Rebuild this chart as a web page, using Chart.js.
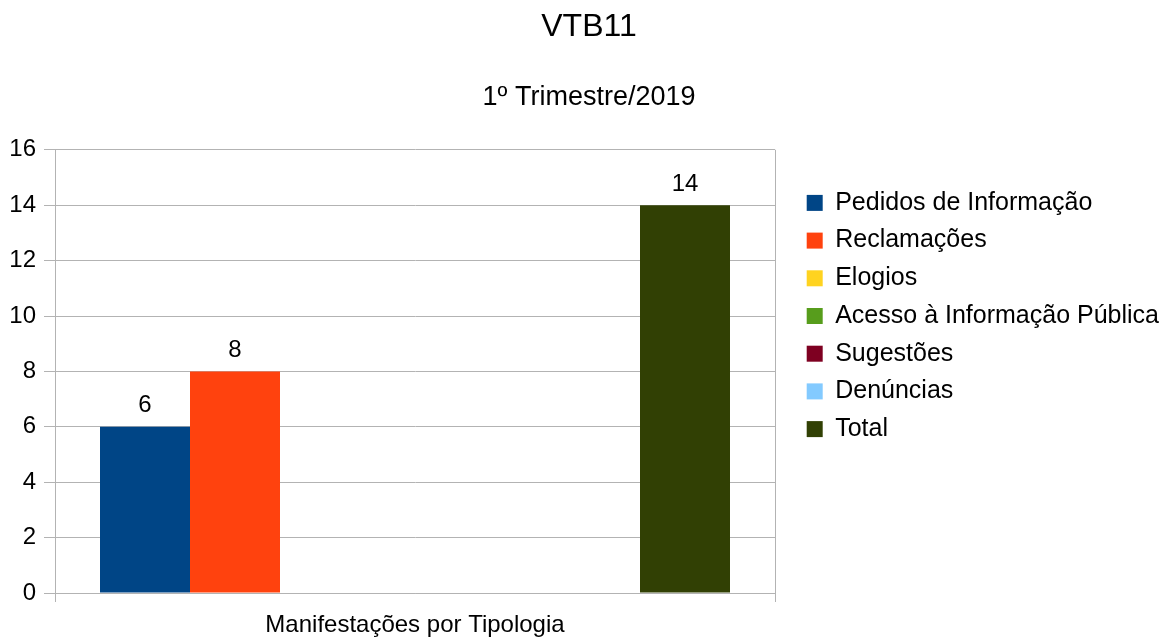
<!DOCTYPE html>
<html>
<head>
<meta charset="utf-8">
<title>VTB11</title>
<script src="https://cdn.jsdelivr.net/npm/chart.js@4.4.1/dist/chart.umd.min.js"></script>
<style>
  html, body { margin: 0; padding: 0; background: #fff; }
  #wrap { width: 1176px; height: 640px; }
</style>
</head>
<body>
<div id="wrap"><canvas id="grafico" width="1176" height="640"></canvas></div>
<script>
const categorias = ['Manifestações por Tipologia'];
const series = ['Pedidos de Informação', 'Reclamações', 'Elogios', 'Acesso à Informação Pública', 'Sugestões', 'Denúncias', 'Total'];
const valores = [6, 8, 0, 0, 0, 0, 14];
const cores = ['#004586', '#ff420e', '#ffd320', '#579d1c', '#7e0021', '#83caff', '#314004'];

const fonte = 'Liberation Sans, Arial, sans-serif';
const cinza = '#b3b3b3';
const larguraLegenda = 401;

// valor escrito em cima de cada barra (zeros ficam sem rótulo)
const rotulos = {
  id: 'rotulos',
  afterDatasetsDraw(chart) {
    const ctx = chart.ctx;
    ctx.save();
    ctx.font = '24px ' + fonte;
    ctx.fillStyle = '#000';
    ctx.textAlign = 'center';
    ctx.textBaseline = 'middle';
    chart.data.datasets.forEach((ds, i) => {
      chart.getDatasetMeta(i).data.forEach((bar, j) => {
        const v = ds.data[j];
        if (v > 0) ctx.fillText(String(v), bar.x, bar.y - 21);
      });
    });
    ctx.restore();
  }
};

// legenda mais larga que o limite padrão, um pouco afastada do gráfico e levantada
const ajusteLegenda = {
  id: 'ajusteLegenda',
  beforeInit(chart) {
    const legenda = chart.legend;
    const fitOriginal = legenda.fit;
    legenda.fit = function () {
      fitOriginal.call(this);
      this.width = larguraLegenda;
    };
  },
  afterLayout(chart) {
    chart.legend.left += 19;
    chart.legend.top -= 4;
    chart.legend.bottom -= 4;
  }
};

new Chart(document.getElementById('grafico'), {
  type: 'bar',
  data: {
    labels: categorias,
    datasets: series.map((nome, i) => ({
      label: nome,
      data: [valores[i]],
      backgroundColor: cores[i],
      borderWidth: 0,
      categoryPercentage: 0.875,
      barPercentage: 1
    }))
  },
  options: {
    responsive: false,
    devicePixelRatio: 1,
    animation: false,
    layout: { padding: { left: 2, right: 0, top: 0, bottom: 0 } },
    plugins: {
      title: {
        display: true,
        text: 'VTB11',
        color: '#000',
        font: { family: fonte, size: 32, weight: 'normal' },
        padding: { top: 8, bottom: 18 }
      },
      subtitle: {
        display: true,
        text: '1º Trimestre/2019',
        color: '#000',
        font: { family: fonte, size: 27, weight: 'normal' },
        padding: { top: 17, bottom: 36 }
      },
      legend: {
        position: 'right',
        labels: {
          color: '#000',
          font: { family: fonte, size: 25 },
          boxWidth: 16,
          boxHeight: 16,
          padding: 12.7
        }
      },
      tooltip: { enabled: false }
    },
    scales: {
      x: {
        grid: { color: cinza, offset: true, tickLength: 9 },
        border: { color: cinza },
        ticks: { color: '#000', font: { family: fonte, size: 24 }, padding: 8.6 },
        afterFit(scale) { scale.height = 47; }
      },
      y: {
        min: 0,
        max: 16,
        grid: { color: cinza, tickLength: 11 },
        border: { color: cinza },
        ticks: { stepSize: 2, color: '#000', font: { family: fonte, size: 24 }, padding: 8 },
        afterFit(scale) { scale.width = 53; }
      }
    }
  },
  plugins: [rotulos, ajusteLegenda]
});
</script>
</body>
</html>
